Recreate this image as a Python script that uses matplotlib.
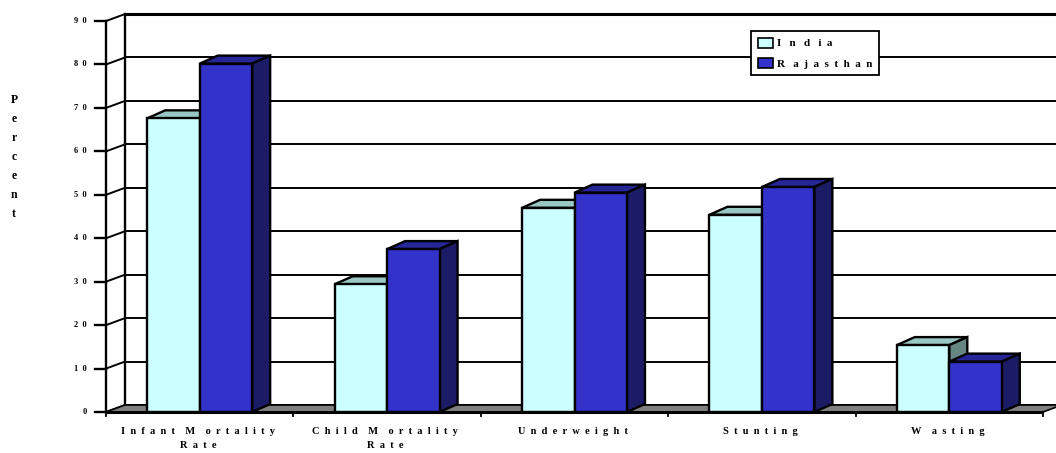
import matplotlib
matplotlib.use("Agg")
import matplotlib.pyplot as plt
from matplotlib.patches import Polygon, Patch

categories = ["Infant Mortality\nRate", "Child Mortality\nRate", "Underweight", "Stunting", "Wasting"]
cat_labels = ["I  n  f  a  n  t    M    o  r  t  a  l  i  t  y\nR  a  t  e",
              "C  h  i  l  d    M    o  r  t  a  l  i  t  y\nR  a  t  e",
              "U  n  d  e  r  w  e  i  g  h  t",
              "S  t  u  n  t  i  n  g",
              "W    a  s  t  i  n  g"]
india = [67.6, 29.4, 47.0, 45.4, 15.4]
rajasthan = [80.2, 37.5, 50.5, 51.8, 11.6]
series_names = ["India", "Rajasthan"]
series_labels = ["I   n   d   i  a", "R   a  j  a  s  t  h  a  n"]
yticks = [0, 10, 20, 30, 40, 50, 60, 70, 80, 90]
ylabel = "Percent"

W, H = 1056, 453
fig = plt.figure(figsize=(W / 100, H / 100), dpi=100)
ax = fig.add_axes([0, 0, 1, 1])
# pixel mapping: x=0 at 106px, 1 unit = 187.4px ; y=0 at 412px, 10 units = 43.44px
px_x = 187.4
px_y = 4.344
ax.set_xlim(-106 / px_x, (W - 106) / px_x)
ax.set_ylim(-(H - 412) / px_y, 412 / px_y)
ax.axis("off")

ncat = len(categories)
ymax = yticks[-1]
dx, dy = 19 / px_x, 7 / px_y          # wall depth
bdx, bdy = 18 / px_x, 8 / px_y        # bar depth
lw = 1.7

# colours
c_ind = ("#CCFFFF", "#99C7C4", "#668683")   # front, top, side
c_raj = ("#3333CC", "#262699", "#1C1C66")

font = "Liberation Serif"

# back wall gridlines + diagonals to front axis
for v in yticks:
    ax.plot([dx, ncat + dx + 0.5], [v + dy, v + dy], color="black", lw=1.4 if v != ymax else 2.2, zorder=1,
            solid_capstyle="butt")
    ax.plot([0, dx], [v, v + dy], color="black", lw=1.4, zorder=1)
# left wall back edge and front axis
ax.plot([dx, dx], [dy, ymax + dy], color="black", lw=lw, zorder=1)
ax.plot([0, 0], [0, ymax], color="black", lw=lw, zorder=6)

# floor
floor = Polygon([(0, 0), (ncat, 0), (ncat + dx, dy), (dx, dy)], closed=True,
                facecolor="#808080", edgecolor="black", lw=1.2, zorder=2)
ax.add_patch(floor)
ax.plot([0, ncat], [0, 0], color="black", lw=2.2, zorder=6, solid_capstyle="butt")

# y ticks and labels
for v in yticks:
    ax.plot([-11 / px_x, 0], [v, v], color="black", lw=lw, zorder=6)
    ax.text(-19 / px_x, v, "  ".join(str(v)), ha="right", va="center", fontsize=6,
            fontweight="bold", family=font, zorder=6)
# x ticks
for i in range(ncat + 1):
    ax.plot([i, i], [0, -4 / px_y], color="black", lw=1.3, zorder=6)

# bars
bw = 0.28
xs_i = [i + 0.5 - bw / 2 for i in range(ncat)]
xs_r = [i + 0.5 + bw / 2 for i in range(ncat)]

def draw_bar_3d(xc, v, cols, z):
    x0, x1 = xc - bw / 2, xc + bw / 2
    top = Polygon([(x0, v), (x1, v), (x1 + bdx, v + bdy), (x0 + bdx, v + bdy)], closed=True,
                  facecolor=cols[1], edgecolor="black", lw=lw, zorder=z)
    side = Polygon([(x1, 0), (x1 + bdx, bdy), (x1 + bdx, v + bdy), (x1, v)], closed=True,
                   facecolor=cols[2], edgecolor="black", lw=lw, zorder=z)
    ax.add_patch(top)
    ax.add_patch(side)

for i in range(ncat):
    z = 3 + i * 0.1
    ax.bar(xs_i[i], india[i], bw, color=c_ind[0], edgecolor="black", lw=lw, zorder=z + 0.01)
    draw_bar_3d(xs_i[i], india[i], c_ind, z)
    ax.bar(xs_r[i], rajasthan[i], bw, color=c_raj[0], edgecolor="black", lw=lw, zorder=z + 0.05)
    draw_bar_3d(xs_r[i], rajasthan[i], c_raj, z + 0.04)

# category labels
for i, lab in enumerate(cat_labels):
    ax.text(i + 0.49, -15 / px_y, lab, ha="center", va="top", fontsize=7.5, fontweight="bold",
            family=font, linespacing=1.75, zorder=6)

# y label (stacked letters)
for k, ch in enumerate(ylabel):
    ax.text(-92 / px_x, (412 - 100 - 19 * k) / px_y, ch, ha="center", va="center", fontsize=8.5,
            fontweight="bold", family=font)

# legend
handles = [Patch(facecolor=c_ind[0], edgecolor="black", lw=1.2),
           Patch(facecolor=c_raj[0], edgecolor="black", lw=1.2)]
leg = ax.legend(handles, series_labels, loc="upper left", bbox_to_anchor=(751 / W, 1 - 31 / H),
                bbox_transform=fig.transFigure, frameon=True, fancybox=False, framealpha=1,
                edgecolor="black", prop={"family": font, "weight": "bold", "size": 8},
                handlelength=1.35, handleheight=1.0, handletextpad=0.35, borderpad=0.6,
                labelspacing=0.85, borderaxespad=0)
leg.get_frame().set_linewidth(1.3)
leg.set_zorder(10)

fig.savefig("out.png", dpi=100)
